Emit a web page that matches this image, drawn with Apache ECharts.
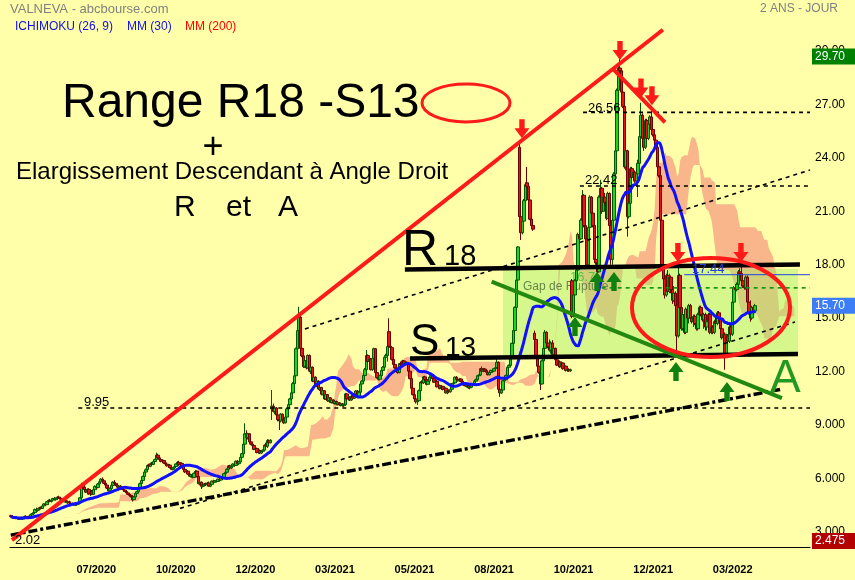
<!DOCTYPE html>
<html><head><meta charset="utf-8">
<script src="https://cdn.jsdelivr.net/npm/echarts@6/dist/echarts.min.js"></script>
<style>html,body{margin:0;padding:0;background:#FFFFAA;}#c{width:855px;height:580px;}</style>
</head><body><div id="c"></div>
<script>
// ---------- DATA ----------
const startDate = [2020, 4, 4]; // 2020-05-04
const holidays = ['2020-12-25','2021-01-01','2021-04-02','2021-04-05','2022-04-15','2022-04-18'];
const futureSlots = 36;
// daily candles [open, high, low, close]
const ohlc = [
[3.90,3.95,3.80,3.85],[3.85,3.92,3.78,3.80],[3.82,3.88,3.72,3.75],[3.75,3.85,3.70,3.80],[3.80,3.86,3.72,3.74],
[3.74,3.80,3.66,3.70],[3.70,3.82,3.68,3.78],[3.78,3.84,3.70,3.72],[3.72,3.80,3.66,3.76],[3.76,3.90,3.74,3.86],
[3.86,3.92,3.76,3.80],[3.80,3.88,3.74,3.84],[3.84,3.90,3.78,3.82],[3.82,3.98,3.80,3.95],[3.95,4.05,3.90,4.00],
[4.00,4.12,3.96,4.08],[4.08,4.30,4.05,4.25],[4.25,4.35,4.15,4.20],[4.20,4.32,4.12,4.28],[4.28,4.40,4.22,4.36],
[4.36,4.42,4.25,4.30],[4.30,4.48,4.28,4.45],[4.45,4.60,4.40,4.56],[4.56,4.65,4.48,4.52],[4.52,4.72,4.50,4.68],
[4.68,4.80,4.60,4.76],[4.76,4.84,4.66,4.70],[4.70,4.82,4.64,4.78],[4.78,4.90,4.72,4.86],[4.86,4.95,4.76,4.80],
[4.80,4.92,4.74,4.88],[4.88,5.00,4.82,4.94],[4.94,5.02,4.84,4.88],[4.88,4.96,4.78,4.82],[4.82,4.90,4.72,4.76],
[4.76,4.84,4.66,4.70],[4.70,4.80,4.64,4.74],[4.74,4.78,4.60,4.64],[4.64,4.72,4.56,4.68],[4.68,4.74,4.56,4.60],
[4.60,4.66,4.50,4.55],[4.55,4.64,4.48,4.58],[4.58,4.62,4.46,4.50],[4.50,4.58,4.44,4.52],[4.52,4.60,4.45,4.55],
[4.55,4.68,4.50,4.62],[4.62,4.95,4.60,4.90],[4.90,5.75,4.88,5.60],[5.60,5.70,5.40,5.50],[5.50,5.62,5.30,5.36],
[5.36,5.46,5.18,5.22],[5.22,5.43,5.10,5.38],[5.38,5.44,5.08,5.12],[5.12,5.30,5.00,5.25],[5.25,5.34,5.05,5.10],
[5.10,5.40,5.08,5.36],[5.36,5.60,5.30,5.55],[5.55,5.66,5.40,5.48],[5.48,5.72,5.44,5.68],[5.68,5.85,5.60,5.80],
[5.80,6.00,5.74,5.95],[5.95,6.05,5.80,5.86],[5.86,5.94,5.68,5.72],[5.72,5.80,5.58,5.62],[5.62,5.68,5.40,5.45],
[5.45,5.52,5.25,5.30],[5.30,5.48,5.24,5.42],[5.42,5.66,5.38,5.60],[5.60,5.84,5.56,5.78],[5.78,5.90,5.64,5.70],
[5.70,5.76,5.56,5.62],[5.62,5.70,5.46,5.50],[5.50,5.60,5.40,5.56],[5.56,5.62,5.42,5.45],[5.45,5.52,5.34,5.38],
[5.38,5.46,5.28,5.34],[5.34,5.40,5.22,5.26],[5.26,5.34,5.14,5.18],[5.18,5.24,5.06,5.10],[5.10,5.16,5.00,5.04],
[5.04,5.12,4.92,4.98],[4.98,5.02,4.70,4.80],[4.80,4.98,4.76,4.95],[4.95,5.18,4.92,5.15],[5.15,5.30,5.10,5.25],
[5.25,5.50,5.22,5.46],[5.46,5.75,5.44,5.70],[5.70,5.92,5.66,5.88],[5.88,6.15,5.84,6.10],
[6.10,6.40,6.05,6.35],[6.35,6.55,6.25,6.48],[6.48,6.78,6.44,6.72],[6.72,6.82,6.60,6.68],[6.68,6.88,6.62,6.82],
[6.82,6.92,6.72,6.78],[6.78,7.00,6.74,6.94],[6.94,7.10,6.86,7.05],[7.05,7.44,7.00,7.30],[7.30,7.38,7.10,7.15],
[7.15,7.24,7.00,7.05],[7.05,7.12,6.90,6.95],[6.95,7.06,6.86,7.00],[7.00,7.04,6.82,6.86],[6.86,6.92,6.74,6.80],
[6.80,6.88,6.66,6.70],[6.70,6.78,6.60,6.74],[6.74,6.80,6.56,6.60],[6.60,6.66,6.46,6.50],[6.50,6.62,6.44,6.58],
[6.58,6.70,6.52,6.66],[6.66,6.84,6.62,6.80],[6.80,6.96,6.74,6.90],[6.90,6.98,6.70,6.76],[6.76,6.88,6.66,6.84],
[6.84,6.90,6.62,6.66],[6.66,6.74,6.46,6.50],[6.50,6.56,6.30,6.36],[6.36,6.44,6.26,6.40],
[6.40,6.46,6.20,6.24],[6.24,6.30,6.08,6.12],[6.12,6.26,6.04,6.20],[6.20,6.24,6.00,6.05],[6.05,6.32,6.02,6.28],
[6.28,6.46,6.20,6.40],[6.40,6.44,6.05,6.10],[6.10,6.14,5.66,5.70],[5.70,5.84,5.60,5.78],[5.78,5.82,5.40,5.55],
[5.55,5.66,5.48,5.60],[5.60,5.74,5.56,5.70],[5.70,5.76,5.58,5.64],[5.64,5.80,5.56,5.74],[5.74,5.82,5.52,5.56],
[5.56,5.70,5.50,5.66],[5.66,5.88,5.62,5.84],[5.84,5.92,5.72,5.78],[5.78,5.90,5.74,5.86],[5.86,5.92,5.78,5.82],
[5.82,5.98,5.80,5.95],[5.95,6.02,5.84,5.90],[5.90,6.08,5.86,6.04],[6.04,6.10,5.92,5.98],[5.98,6.30,5.96,6.26],
[6.26,6.40,6.18,6.34],[6.34,6.56,6.30,6.50],[6.50,6.74,6.46,6.70],[6.70,6.76,6.54,6.58],[6.58,6.72,6.52,6.68],
[6.68,6.84,6.62,6.80],[6.80,6.86,6.66,6.72],[6.72,7.00,6.70,6.96],[6.96,7.02,6.76,6.82],[6.82,6.96,6.74,6.92],
[6.92,7.22,6.90,7.18],[7.18,7.42,7.10,7.38],[7.38,7.98,7.34,7.92],[7.92,9.09,7.90,8.50],[8.50,8.70,8.20,8.28],
[8.28,8.56,8.18,8.50],[8.50,8.54,8.00,8.05],[8.05,8.12,7.86,7.92],[7.92,8.00,7.76,7.84],[7.84,7.90,7.58,7.62],
[7.62,7.74,7.50,7.68],[7.68,7.72,7.40,7.45],[7.45,7.60,7.38,7.56],[7.56,7.62,7.36,7.42],[7.42,7.56,7.38,7.52],
[7.52,7.62,7.44,7.58],[7.58,7.90,7.54,7.86],[7.86,8.00,7.72,7.80],[7.80,8.20,7.70,8.12],
[8.12,8.18,7.92,8.00],[8.00,8.20,7.96,8.14],
[9.90,10.96,9.28,10.05],[10.05,10.20,9.70,9.75],[9.75,10.02,9.60,9.95],[9.95,10.00,9.50,9.56],[9.56,9.60,9.20,9.30],
[9.30,9.48,8.71,9.22],[9.22,9.66,9.14,9.60],[9.60,9.64,9.20,9.28],[9.28,9.32,9.05,9.12],[9.12,9.50,9.08,9.44],
[9.44,9.95,9.40,9.90],[9.90,10.20,9.85,10.14],[10.14,10.52,10.10,10.46],[10.46,10.90,10.40,10.80],[10.80,11.40,10.70,11.32],
[11.32,11.85,11.20,11.76],[11.76,13.35,11.70,13.28],[13.28,14.40,13.20,14.30],[14.30,15.64,14.10,15.05],
[15.05,15.20,13.20,13.30],[13.30,13.40,12.80,12.88],[12.88,13.24,12.20,12.28],[12.28,12.70,12.20,12.62],[12.62,12.68,12.12,12.20],
[12.20,12.96,12.16,12.90],[12.90,12.96,11.96,12.02],[12.02,12.30,11.86,12.24],[12.24,12.28,11.40,11.46],[11.46,11.74,11.40,11.68],
[11.68,11.72,11.14,11.20],[11.20,11.52,11.12,11.46],[11.46,11.50,10.96,11.02],[11.02,11.16,10.90,11.10],[11.10,11.14,10.66,10.72],
[10.72,10.98,10.66,10.92],[10.92,10.96,10.40,10.46],[10.46,10.78,10.40,10.70],[10.70,10.74,10.30,10.36],[10.36,10.58,10.30,10.52],
[10.52,10.56,10.22,10.26],[10.26,10.46,10.20,10.40],[10.40,10.44,10.16,10.22],[10.22,10.38,10.14,10.32],[10.32,10.36,10.10,10.16],
[10.16,10.30,10.08,10.24],[10.24,10.28,10.06,10.12],[10.12,10.22,10.04,10.18],[10.18,10.22,10.02,10.08],[10.08,10.20,10.00,10.14],
[10.14,10.80,10.10,10.74],[10.74,10.78,10.40,10.46],[10.46,10.62,10.38,10.56],[10.56,10.60,10.34,10.40],[10.40,10.68,10.36,10.62],
[10.62,10.70,10.44,10.50],[10.50,10.80,10.46,10.74],[10.74,10.96,10.66,10.90],
[10.90,10.96,10.50,10.56],[10.56,10.90,10.50,10.84],[10.84,11.36,10.80,11.30],[11.30,11.50,11.20,11.46],[11.46,11.84,11.40,11.78],
[11.78,12.20,11.70,12.10],[12.10,13.21,12.06,12.90],[12.90,12.96,12.50,12.56],[12.56,12.80,12.40,12.70],[12.70,12.76,12.06,12.10],
[12.10,12.80,12.04,12.74],[12.74,13.34,12.70,13.28],[13.28,13.30,11.88,11.94],[11.94,12.00,11.60,11.66],[11.66,11.80,11.50,11.56],
[11.56,11.82,11.50,11.76],[11.76,12.10,11.70,12.06],[12.06,12.30,11.96,12.24],[12.24,12.86,12.20,12.80],[12.80,13.00,12.70,12.90],
[12.90,13.44,12.56,13.40],[14.24,14.99,13.36,13.42],[13.42,13.96,13.28,13.34],[13.34,13.40,12.62,12.68],[12.68,12.72,12.36,12.40],
[12.40,12.44,12.16,12.20],[12.20,12.30,11.96,12.06],[12.06,12.12,11.88,11.94],[11.94,12.48,11.90,12.44],[12.44,12.56,12.30,12.38],
[12.38,12.66,12.34,12.60],[12.60,12.64,12.36,12.42],[12.42,12.58,12.34,12.52],[12.52,12.56,12.36,12.40],[12.40,12.44,11.98,12.02],
[12.02,12.06,11.56,11.60],[11.60,11.64,11.00,11.06],[11.06,11.10,10.66,10.70],[10.70,10.80,10.40,10.46],[10.46,10.60,10.20,10.30],
[10.30,10.40,10.12,10.36],[10.36,10.98,10.32,10.92],[10.92,11.44,10.88,11.40],[11.40,11.50,11.30,11.36],[11.36,11.74,11.30,11.70],
[11.70,11.76,11.50,11.56],[11.56,11.60,11.22,11.28],[11.28,11.50,11.24,11.46],[11.46,11.72,11.40,11.68],[11.68,11.82,11.60,11.78],
[11.78,11.84,11.56,11.60],[11.60,11.66,11.36,11.40],[11.40,11.50,11.30,11.46],[11.46,11.54,11.10,11.14],[11.14,11.28,11.06,11.22],
[11.22,11.26,11.00,11.04],[11.04,11.24,10.96,11.16],[11.16,11.20,10.94,11.00],[11.00,11.10,10.90,11.06],[11.06,11.10,10.76,10.80],
[10.80,10.96,10.72,10.92],[10.92,11.00,10.80,10.86],[10.86,11.06,10.82,11.00],[11.00,11.36,10.96,11.32],[11.32,11.40,11.24,11.36],
[11.36,11.72,11.32,11.68],[11.68,11.74,11.50,11.56],[11.56,11.60,11.44,11.48],[11.48,11.64,11.42,11.58],[11.58,11.62,11.40,11.46],
[11.46,11.52,11.22,11.26],[11.26,11.36,11.18,11.32],[11.32,11.36,11.14,11.18],[11.18,11.26,11.10,11.22],[11.22,11.26,11.04,11.08],
[11.08,11.16,11.00,11.12],[11.12,11.30,11.08,11.26],[11.26,11.34,11.20,11.28],[11.28,11.50,11.24,11.46],[11.46,11.60,11.40,11.54],
[11.54,11.80,11.50,11.76],[11.76,11.84,11.70,11.80],[11.80,12.20,11.76,12.16],[12.16,12.28,11.98,12.02],[12.02,12.18,11.96,12.14],
[12.14,12.20,11.98,12.04],[12.04,12.10,11.90,11.96],[11.96,12.06,11.78,11.82],[11.82,11.98,11.78,11.94],[11.94,12.10,11.88,12.06],
[12.06,12.14,11.98,12.02],[12.02,12.20,11.96,12.16],[12.16,12.30,12.08,12.22],[12.22,12.74,12.18,12.52],[12.52,12.56,10.96,11.00],
[11.00,11.34,10.58,10.80],[10.80,11.00,10.74,10.96],[10.96,11.52,10.92,11.48],[11.48,11.60,11.40,11.54],[11.54,11.82,11.50,11.78],
[11.78,12.28,11.74,12.24],[12.24,12.40,12.16,12.34],[12.34,12.84,12.30,12.80],[12.80,13.62,12.76,13.58],[13.58,14.36,13.54,14.30],
[14.30,15.66,14.26,15.60],[15.60,17.20,15.56,17.14],[17.14,19.05,17.10,19.00],[24.60,24.82,20.60,20.70],
[20.70,20.80,19.39,19.80],[19.80,20.55,19.70,20.45],[20.45,21.70,20.30,21.60],[21.60,22.62,20.90,22.50],[22.60,23.50,22.30,22.40],
[22.40,22.58,21.60,21.64],[21.64,21.70,20.50,20.56],[20.56,20.60,20.10,20.20],[20.20,20.50,19.90,20.00],
[14.15,14.30,13.70,13.80],[13.80,13.86,12.70,12.78],[12.78,12.84,12.22,12.30],[12.30,12.66,11.88,11.95],[11.95,12.00,10.96,11.30],
[11.30,12.66,11.26,12.60],[12.60,13.40,12.56,13.30],[13.30,14.33,13.20,14.20],[14.20,14.26,13.50,13.60],[13.60,14.00,13.30,13.40],
[13.40,13.80,13.12,13.20],[13.20,13.70,13.00,13.60],[13.60,13.76,12.90,12.96],[12.96,13.36,12.86,13.30],[13.30,13.34,12.60,12.66],
[12.66,12.76,12.30,12.36],[12.36,12.60,12.28,12.54],[12.54,12.62,12.20,12.26],[12.26,12.56,12.18,12.48],[12.48,12.50,12.10,12.16],
[12.16,12.36,12.08,12.30],[12.30,12.34,12.00,12.06],[12.06,12.20,11.98,12.12],[12.12,12.18,11.98,12.04],[12.04,12.16,11.98,12.10],
[17.10,17.20,15.00,15.10],[15.10,16.40,15.04,16.30],[16.30,17.20,16.20,17.10],[17.10,17.76,17.00,17.70],[17.70,19.80,17.60,19.70],
[19.70,20.00,19.30,19.45],[19.45,20.60,19.40,20.50],[20.50,22.20,20.44,21.90],[21.90,21.96,20.10,20.20],[20.20,20.24,19.36,19.45],
[19.45,19.50,17.86,18.00],[18.00,20.20,17.90,20.10],[20.10,21.90,20.00,21.80],[21.80,21.86,20.84,20.90],[20.90,21.00,20.10,20.20],
[20.20,20.30,18.20,18.30],[18.30,19.60,18.00,18.10],[18.10,18.50,17.50,17.60],[17.60,21.90,17.56,21.80],[21.80,22.77,20.50,22.30],
[22.30,22.36,20.86,21.00],[21.00,21.86,20.96,21.80],[21.80,22.04,21.40,21.50],[21.50,21.56,20.50,20.60],[20.60,22.10,20.56,22.00],
[22.00,22.06,20.10,20.20],[20.20,20.26,18.00,18.30],[18.30,20.60,18.00,20.50],[20.50,23.20,20.40,23.10],[23.10,24.50,23.00,24.40],
[24.40,27.90,24.30,27.80],[27.80,29.20,27.70,29.05],[29.05,29.70,28.60,28.90],
[28.90,29.00,27.60,27.70],[27.70,27.90,26.80,26.90],[26.90,27.00,23.40,23.50],[23.50,24.50,23.30,24.40],[24.40,24.46,19.58,20.70],
[20.70,21.50,20.60,21.45],[21.45,23.50,21.40,23.40],[23.40,23.50,22.80,22.90],[22.90,23.30,22.70,23.20],[23.20,23.30,22.60,22.70],
[22.70,23.20,22.40,23.10],[23.10,23.90,21.80,23.70],[23.70,25.20,23.60,25.20],[25.20,27.10,24.90,26.40],[26.40,26.50,25.00,25.10],
[25.10,25.60,24.40,24.60],[24.60,26.20,24.50,26.10],[26.10,26.20,25.00,25.10],[25.10,26.00,25.00,25.90],[25.90,26.40,25.70,26.30],
[26.30,26.70,25.50,25.60],[25.60,25.80,25.20,25.30],[25.30,25.40,24.90,25.00],[25.00,25.10,24.50,24.60],[24.60,24.70,23.40,23.50],
[23.50,23.60,22.90,23.00],[23.00,23.10,20.40,20.50],[20.50,20.60,17.80,17.90],[17.90,18.10,17.00,17.20],[17.20,17.70,16.10,16.30],
[16.30,17.50,16.20,17.40],[17.40,17.70,16.40,16.50],[16.50,17.50,16.40,17.30],[17.30,17.40,16.40,16.60],[16.60,16.90,15.80,16.00],
[16.00,16.80,15.90,16.40],[16.40,16.50,15.60,15.70],[15.70,15.80,13.10,14.00],[14.00,17.90,13.90,17.40],[17.40,17.50,15.50,15.60],
[15.60,15.70,14.30,14.40],[14.40,15.30,14.30,15.20],[15.20,15.30,14.10,14.20],[14.20,15.60,14.10,15.50],[15.50,15.60,14.90,15.00],
[15.00,15.80,14.70,15.70],[15.70,15.80,14.90,15.00],[15.00,15.30,14.70,14.80],[14.80,15.20,14.50,15.10],[15.10,15.20,14.60,14.70],
[14.70,15.10,14.30,14.40],[14.40,15.30,14.30,15.20],[15.20,15.70,15.10,15.60],[15.60,15.70,15.10,15.20],[15.20,15.40,14.80,14.90],
[14.90,15.30,14.40,15.20],[15.20,15.30,14.30,14.50],[14.50,14.90,14.30,14.80],[14.80,15.30,14.70,15.20],[15.20,15.30,14.10,14.20],
[14.20,14.70,14.10,14.50],[14.50,14.60,14.10,14.20],[14.20,14.90,14.10,14.80],[14.80,15.10,14.50,14.70],[14.70,15.40,14.60,15.30],
[15.30,15.40,14.80,15.00],[15.00,15.10,14.30,14.40],[14.40,14.70,13.80,13.90],[13.90,14.20,13.40,14.10],[14.10,14.20,12.10,13.00],
[13.00,14.10,12.90,14.00],[14.00,14.10,13.60,13.70],[13.70,14.60,13.60,14.50],[14.50,14.60,14.00,14.10],[14.10,16.00,14.00,15.90],
[15.90,16.80,15.80,16.70],[16.70,16.90,16.40,16.60],[16.60,17.00,16.50,16.90],[16.90,17.70,16.80,17.60],[17.60,17.80,17.30,17.50],
[17.50,18.10,17.00,17.10],[17.10,17.30,16.70,16.80],[16.80,17.00,16.60,16.70],[16.70,17.40,16.60,17.30],[17.30,17.40,15.80,15.90],
[15.90,16.20,15.20,15.30],[15.30,16.00,14.80,15.00],[15.00,15.70,14.90,15.60],[15.60,15.70,15.30,15.40],[15.40,15.80,15.30,15.70]
];
const xTickIdx = [57,110,163,216,269,322,375,428,481];
const yTicks = [3,6,9,12,15,18,21,24,27,30];
const yRange = [2.14, 31.75];
const priceBoxes = [
  {v: 29.70, text: '29.70', color: '#008000'},
  {v: 15.70, text: '15.70', color: '#3d7df5'},
  {v: 2.475, text: '2.475', color: '#b30000'}
];
// drawn trend lines, in [candle index, price]
const redTrend   = [[0.8, 2.53], [434.5, 31.2]];
const redShort   = [[401.2, 29.0], [435.9, 26.0]];
const r18Line    = [[262.6, 17.73], [525.8, 18.01]];
const s13Line    = [[266.0, 12.73], [524.5, 12.98]];
const greenLine  = [[320.4, 17.05], [513.8, 10.51]];
const level2656  = [[381.3, 26.56], [532.5, 26.56]];
const level2242  = [[379.2, 22.42], [532.5, 22.42]];
const level995   = [[45.0, 9.95], [532.5, 9.95]];
const upperDash  = [[196.0, 14.39], [532.5, 23.32]];
const lowerDash  = [[112.8, 4.31], [522.5, 14.78]];
const dashDot    = [[0.0, 2.81], [514.5, 11.02]];
const gapLevel   = [[393.7, 16.7], [532.5, 16.7]];
const level1744  = [[448.7, 17.44], [532.5, 17.44]];
const rangeBox   = [[328.0, 12.93, 524.5, 17.76]];
const redArrows  = [[340.6, 25.1], [405.9, 29.5], [419.9, 27.4], [427.2, 26.96], [444.5, 18.15], [486.5, 18.15]];
const greenArrows= [[390.6, 17.59], [401.9, 17.59], [375.9, 15.06], [443.2, 12.53], [477.2, 11.41]];

// ---------- BUILD ----------
const N = ohlc.length;
const M = N + futureSlots;
const dates = [];
(function(){
  const d = new Date(Date.UTC(startDate[0], startDate[1], startDate[2]));
  while (dates.length < M) {
    const wd = d.getUTCDay(); const s = d.toISOString().slice(0,10);
    if (wd !== 0 && wd !== 6 && holidays.indexOf(s) < 0) dates.push(s);
    d.setUTCDate(d.getUTCDate() + 1);
  }
})();
const highs = ohlc.map(r => r[1]), lows = ohlc.map(r => r[2]), closes = ohlc.map(r => r[3]);
const candleData = ohlc.map(r => [r[0], r[3], r[2], r[1]]);
function midRange(i, p) {
  let hi = -Infinity, lo = Infinity;
  for (let k = Math.max(0, i - p + 1); k <= i; k++) { hi = Math.max(hi, highs[k]); lo = Math.min(lo, lows[k]); }
  return (hi + lo) / 2;
}
const spanA = new Array(M).fill(null), spanB = new Array(M).fill(null);
for (let i = 0; i < N; i++) {
  spanA[i + 26] = (midRange(i, 9) + midRange(i, 26)) / 2;
  spanB[i + 26] = midRange(i, 52);
}
const cloudLow = spanA.map((a, i) => a == null ? '-' : Math.min(a, spanB[i]));
const cloudBand = spanA.map((a, i) => a == null ? '-' : Math.abs(a - spanB[i]));
const ma30 = closes.map((c, i) => { let s = 0, n = 0; for (let k = Math.max(0, i - 29); k <= i; k++) { s += closes[k]; n++; } return +(s / n).toFixed(3); });

function seg(data, color, width, type, z) {
  return { type: 'line', xAxisIndex: 1, data: data, symbol: 'none', silent: true, animation: false, z: z || 6,
           lineStyle: { color: color, width: width, type: type || 'solid', cap: 'butt' } };
}
function arrowSeries(data, color, down) {
  return { type: 'custom', xAxisIndex: 1, yAxisIndex: 0, data: data, silent: true, animation: false, z: 8,
    encode: { x: 0, y: 1 },
    renderItem: function (params, api) {
      const p = api.coord([api.value(0), api.value(1)]);
      const s = down ? -1 : 1, x = p[0], y = p[1];
      return { type: 'polygon', shape: { points: [
        [x, y], [x + 7.5, y + s * 10], [x + 2.7, y + s * 10], [x + 2.7, y + s * 19],
        [x - 2.7, y + s * 19], [x - 2.7, y + s * 10], [x - 7.5, y + s * 10]] },
        style: { fill: color } };
    } };
}
const FONT = '"Liberation Sans", Arial, sans-serif';
const NARROW = '"Liberation Sans Narrow", "Liberation Sans", Arial, sans-serif';
function txt(x, y, text, size, color, extra) {
  return Object.assign({ type: 'text', x: x, y: y, z: 100,
    style: Object.assign({ text: text, font: size + 'px ' + FONT, fill: color, verticalAlign: 'middle', align: 'left' }, extra || {}) });
}

const chart = echarts.init(document.getElementById('c'), null, { renderer: 'canvas' });
chart.setOption({
  backgroundColor: '#FFFFAA',
  animation: false,
  grid: { left: 10, right: 45, top: 20, bottom: 33 },
  xAxis: [
    { type: 'category', data: dates, boundaryGap: true,
      axisLine: { show: true, lineStyle: { color: '#000', width: 1 } },
      axisTick: { show: false }, splitLine: { show: false },
      axisLabel: { interval: function (i) { return xTickIdx.indexOf(i) >= 0; },
        formatter: function (v) { return v.slice(5, 7) + '/' + v.slice(0, 4); },
        margin: 17, color: '#000', fontSize: 11, fontWeight: 'bold', fontFamily: NARROW } },
    { type: 'value', min: -0.5, max: M - 0.5, show: false }
  ],
  yAxis: [{ type: 'value', position: 'right', min: yRange[0], max: yRange[1], scale: true,
    axisLine: { show: false }, axisTick: { show: false }, splitLine: { show: false },
    axisLabel: { customValues: yTicks, formatter: function (v) { return v >= 10 ? v.toFixed(2) : v.toFixed(3); },
      margin: 5, align: 'left', color: '#000', fontSize: 12, fontFamily: NARROW, padding: [0, 0, 9, 0] } }],
  series: [
    { type: 'line', name: 'cloudLow', data: cloudLow, stack: 'cloud', symbol: 'none', silent: true, z: 1,
      lineStyle: { opacity: 0 } },
    { type: 'line', name: 'cloud', data: cloudBand, stack: 'cloud', symbol: 'none', silent: true, z: 1,
      lineStyle: { opacity: 0 }, areaStyle: { color: '#f8b68a', opacity: 1 } },
    { type: 'custom', xAxisIndex: 1, data: rangeBox, silent: true, z: 2, encode: { x: [0, 2], y: [1, 3] },
      renderItem: function (params, api) {
        const a = api.coord([api.value(0), api.value(3)]), b = api.coord([api.value(2), api.value(1)]);
        return { type: 'rect', shape: { x: a[0], y: a[1], width: b[0] - a[0], height: b[1] - a[1] },
          style: { fill: 'rgba(165,238,105,0.45)' } };
      } },
    { type: 'candlestick', name: 'VALNEVA', data: candleData, z: 3, barWidth: 3, silent: true,
      itemStyle: { color: '#1ed21e', color0: '#ee1111', borderColor: '#005a00', borderColor0: '#6a0000', borderWidth: 1 } },
    { type: 'line', name: 'MM30', data: ma30, symbol: 'none', smooth: true, silent: true, z: 4,
      lineStyle: { color: '#1010ff', width: 3 } },
    seg(level2656, '#000', 1.6, [4, 4]),
    seg(level2242, '#000', 1.6, [4, 4]),
    seg(level995, '#000', 1.6, [4, 4]),
    seg(upperDash, '#000', 1.6, [4, 4]),
    seg(lowerDash, '#000', 1.6, [4, 4]),
    seg(dashDot, '#000', 3.4, [9, 3, 3, 3]),
    seg(gapLevel, '#109010', 1.6, [4, 4]),
    seg(level1744, '#2040e0', 1),
    seg(redTrend, '#ff1a1a', 4),
    seg(redShort, '#ff1a1a', 4),
    seg(r18Line, '#000', 4.5),
    seg(s13Line, '#000', 4.5),
    seg(greenLine, '#22880f', 4),
    arrowSeries(redArrows, '#ff1a1a', true),
    arrowSeries(greenArrows, '#108010', false)
  ]
});

// value boxes on the right axis, placed through the y scale
const boxEls = [];
priceBoxes.forEach(function (b) {
  const y = chart.convertToPixel({ yAxisIndex: 0 }, b.v);
  boxEls.push({ type: 'rect', z: 120, shape: { x: 812, y: y - 8, width: 43, height: 16 }, style: { fill: b.color } });
  boxEls.push({ type: 'text', z: 121, x: 815, y: y, style: { text: b.text, font: '12px ' + NARROW, fill: '#fff', verticalAlign: 'middle' } });
});

chart.setOption({ graphic: [
    txt(10, 9, 'VALNEVA - abcbourse.com', 13, '#808080'),
    txt(838, 9, '2 ANS - JOUR', 12, '#808080', { align: 'right' }),
    txt(15, 27, 'ICHIMOKU (26, 9)', 12, '#1010e8'),
    txt(127, 27, 'MM (30)', 12, '#1010e8'),
    txt(185, 27, 'MM (200)', 12, '#ff0000'),
    txt(62, 104, 'Range R18 -S13', 48, '#000'),
    txt(213, 148, '+', 36, '#000', { align: 'center' }),
    txt(16, 172, 'Elargissement Descendant à Angle Droit', 24, '#000'),
    txt(174, 208, 'R', 30, '#000'),
    txt(226, 208, 'et', 30, '#000'),
    txt(278, 208, 'A', 30, '#000'),
    txt(402, 251, 'R', 50, '#000'),
    txt(444, 257, '18', 29, '#000'),
    txt(410, 343, 'S', 44, '#000'),
    txt(445, 348, '13', 28, '#000'),
    txt(770, 379, 'A', 46, '#229922'),
    txt(588, 108, '26.56', 13, '#000'),
    txt(585, 180, '22.42', 13, '#000'),
    txt(84, 402, '9.95', 13, '#000'),
    txt(15, 540, '2.02', 13, '#000'),
    Object.assign(txt(523, 287, 'Gap de Rupture', 12, '#303030'), { z: 1 }),
    Object.assign(txt(570, 277, '16.7', 13, '#20a020'), { z: 1 }),
    txt(692, 269, '17.44', 13, '#2040d0'),
    { type: 'ellipse', z: 99, shape: { cx: 466, cy: 103, rx: 44, ry: 19 }, style: { fill: 'none', stroke: '#ff1a1a', lineWidth: 3 } },
    { type: 'ellipse', z: 99, shape: { cx: 711, cy: 307.5, rx: 79, ry: 49.5 }, style: { fill: 'none', stroke: '#ff1a1a', lineWidth: 4 } }
  ].concat(boxEls) });
</script></body></html>
